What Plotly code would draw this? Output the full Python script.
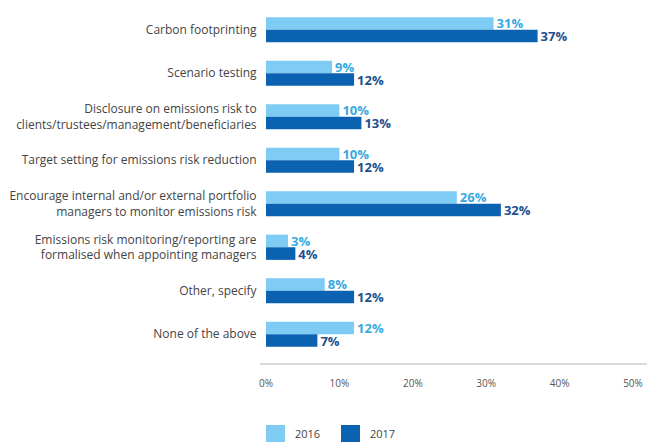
import plotly.graph_objects as go

categories = [
    "Carbon footprinting",
    "Scenario testing",
    "Disclosure on emissions risk to<br>clients/trustees/management/beneficiaries",
    "Target setting for emissions risk reduction",
    "Encourage internal and/or external portfolio<br>managers to monitor emissions risk",
    "Emissions risk monitoring/reporting are<br>formalised when appointing managers",
    "Other, specify",
    "None of the above",
]
values_2016 = [31, 9, 10, 10, 26, 3, 8, 12]
values_2017 = [37, 12, 13, 12, 32, 4, 12, 7]
x_ticks = [0, 10, 20, 30, 40, 50]
x_tick_labels = ["0%", "10%", "20%", "30%", "40%", "50%"]
series_names = ["2016", "2017"]

light = "#7ecbf3"
dark = "#0b62b1"
light_txt = "#36a9e1"
dark_txt = "#1d4f8e"

W, H = 647, 442
L, R, T, B = 266, 14, 8, 86
PW, PH = W - L - R, H - T - B


def px(x):
    return (x - L) / PW


def py(y):
    return (H - B - y) / PH


fig = go.Figure()
for vals, name, col, tcol in [(values_2016, series_names[0], light, light_txt),
                              (values_2017, series_names[1], dark, dark_txt)]:
    fig.add_trace(go.Bar(
        y=categories, x=vals, orientation="h", name=name,
        marker=dict(color=col, line=dict(width=0)),
        text=[f"{v}%" for v in vals], textposition="outside",
        constraintext="none",
        textfont=dict(family="Open Sans", size=13, color=tcol, weight="bold"),
        cliponaxis=False, showlegend=False,
    ))

fig.update_layout(
    width=W, height=H,
    margin=dict(l=L, r=R, t=T, b=B, autoexpand=False),
    paper_bgcolor="white", plot_bgcolor="white",
    barmode="group", bargap=0.42, bargroupgap=0,
    font=dict(family="Open Sans", color="#444444"),
    xaxis=dict(
        range=[0, 50], tickvals=x_ticks, ticktext=x_tick_labels,
        showgrid=False, zeroline=False, showline=False, automargin=False,
        ticks="outside", ticklen=18, tickcolor="rgba(0,0,0,0)",
        tickfont=dict(family="Open Sans", size=10, color="#555555"),
    ),
    yaxis=dict(
        autorange="reversed", showgrid=False, zeroline=False, showline=False,
        automargin=False,
        ticks="outside", ticklen=6, tickcolor="rgba(0,0,0,0)",
        tickfont=dict(family="Open Sans", size=12, color="#444444"),
    ),
    showlegend=False,
    uniformtext=dict(mode=False),
)

# axis line
fig.add_shape(type="line", xref="paper", yref="paper",
              x0=px(260), x1=px(650), y0=py(364), y1=py(364),
              line=dict(color="#cccccc", width=1.5))

# manual legend
legend_items = [(266, 293, light, series_names[0]), (341, 368, dark, series_names[1])]
for sx, tx, col, name in legend_items:
    fig.add_shape(type="rect", xref="paper", yref="paper",
                  x0=px(sx), x1=px(sx + 19), y0=py(425), y1=py(444),
                  fillcolor=col, line=dict(width=0))
    fig.add_annotation(xref="paper", yref="paper", x=px(tx), y=py(434),
                       xanchor="left", yanchor="middle", showarrow=False,
                       text=name, font=dict(family="Open Sans", size=11, color="#444444"))

fig.write_html("out.html", config={"displayModeBar": False},
               post_script="document.body.style.margin='0';document.body.style.overflow='hidden';")
